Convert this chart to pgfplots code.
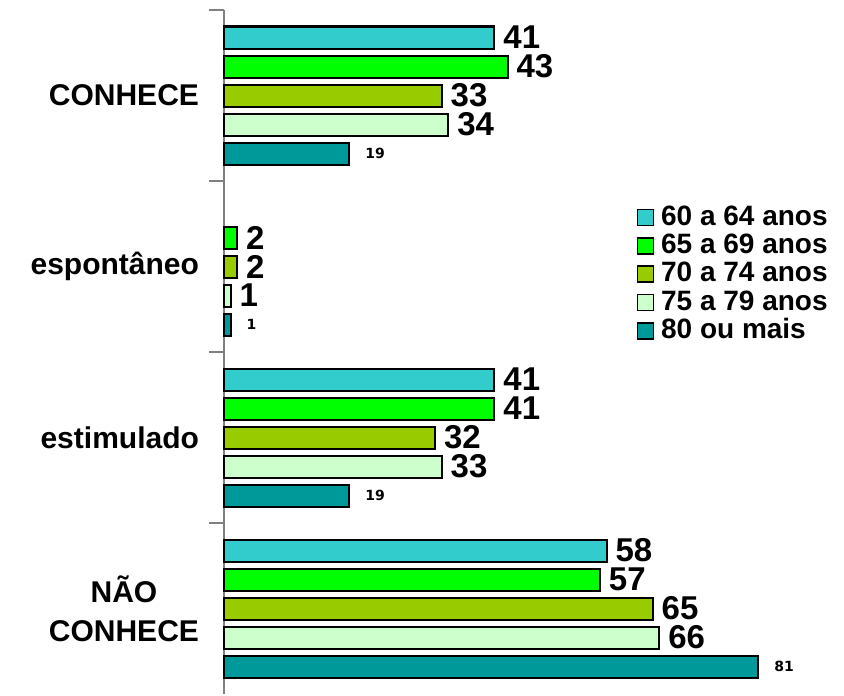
\documentclass[border=0pt]{standalone}
\usepackage{pgfplots}
\pgfplotsset{compat=1.18}
\usetikzlibrary{calc}
\usepackage{fontspec}
\setmainfont{Liberation Sans}
\newfontfamily\smallfont{DejaVu Sans}
\definecolor{cA}{HTML}{33CCCC}
\definecolor{cB}{HTML}{00FF00}
\definecolor{cC}{HTML}{99CC00}
\definecolor{cD}{HTML}{CCFFCC}
\definecolor{cE}{HTML}{009999}
\begin{document}
\begin{tikzpicture}
\begin{axis}[
  name=ax,
  scale only axis,
  width=310pt, height=342pt,
  xbar, bar width=11pt,
  xmin=0, xmax=94,
  ymin=-0.5, ymax=3.5,
  y dir=reverse,
  axis x line=none,
  axis y line*=left,
  y axis line style={draw=gray, line width=1pt},
  ytick={0,1,2,3},
  yticklabels={CONHECE,espontâneo,estimulado,{NÃO\\CONHECE}},
  yticklabel style={font=\bfseries\fontsize{15}{19.5}\selectfont, align=center, xshift=-9pt},
  major tick length=0pt,
  minor ytick={-0.5,0.5,1.5,2.5},
  minor tick length=7.5pt,
  tick align=outside,
  minor tick style={draw=gray, line width=1pt},
  every axis plot/.append style={draw=black, line width=1pt},
  /pgf/number format/assume math mode=true,
  nodes near coords,
  nodes near coords style={font=\bfseries\fontsize{16.5}{17}\selectfont, anchor=west, inner sep=0pt, xshift=4pt, text=black},
  clip=false,
  legend style={draw=none, fill=none, at={(0.655,0.724)}, anchor=north west,
    font=\bfseries\fontsize{14}{15}\selectfont,
    row sep=0pt, column sep=2.5pt,
    nodes={inner sep=1pt, text height=10pt, text depth=2.2pt, anchor=west}},
  legend cell align=left,
  legend image code/.code={\draw[#1, line width=0.8pt] (0pt,-4pt) rectangle (8pt,4pt);},
]
\addplot[fill=cA, bar shift=29pt] coordinates {(41,0) (41,2) (58,3)};
\addplot[fill=cB, bar shift=14.5pt] coordinates {(43,0) (2,1) (41,2) (57,3)};
\addplot[fill=cC, bar shift=0pt] coordinates {(33,0) (2,1) (32,2) (65,3)};
\addplot[fill=cD, bar shift=-14.5pt] coordinates {(34,0) (1,1) (33,2) (66,3)};
\addplot[fill=cE, bar shift=-29pt, nodes near coords style={font=\smallfont\bfseries\fontsize{7}{8}\selectfont, xshift=3.5pt}] coordinates {(19,0) (1,1) (19,2) (81,3)};
\legend{60 a 64 anos,65 a 69 anos,70 a 74 anos,75 a 79 anos,80 ou mais}
\end{axis}
\path[use as bounding box] ($(ax.south west)+(-112pt,0)$) rectangle ($(ax.north east)+(0,5pt)$);
\end{tikzpicture}
\end{document}
